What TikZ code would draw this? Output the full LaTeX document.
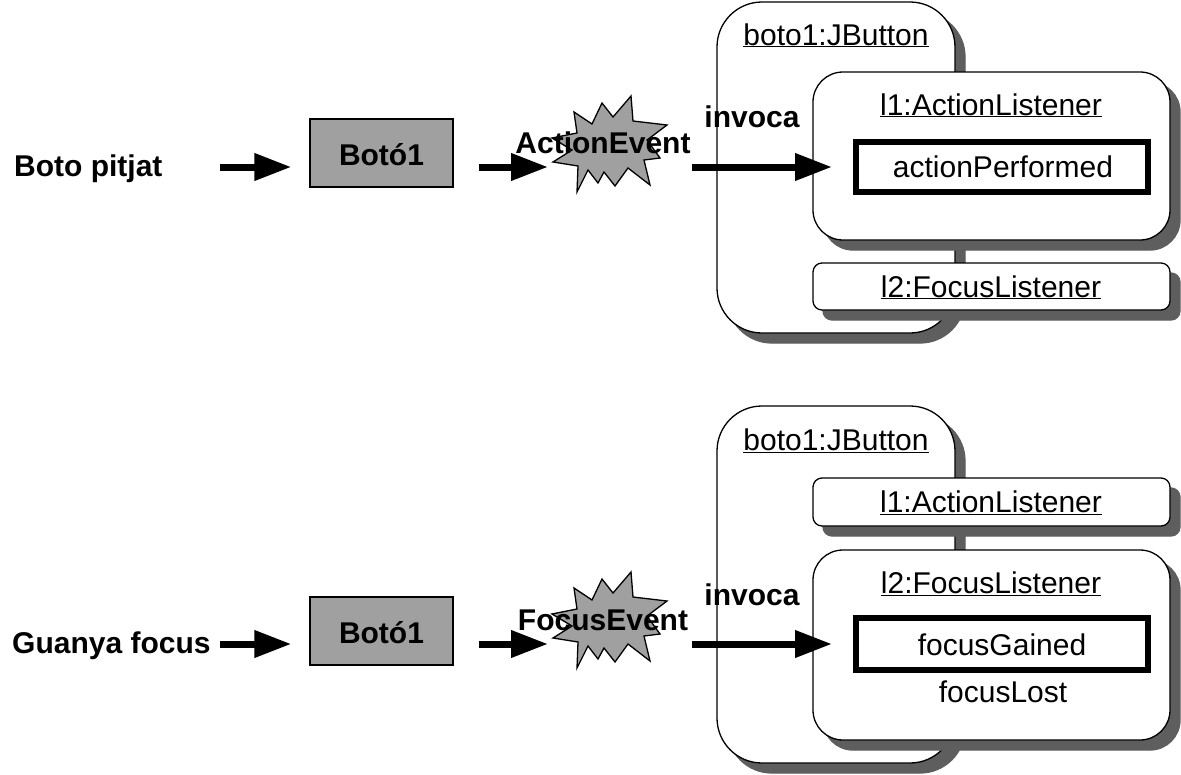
\documentclass[tikz,border=0pt]{standalone}
\usepackage{fontspec}
\setmainfont{Liberation Sans}
\usetikzlibrary{arrows.meta,shadows}
\definecolor{boxgray}{HTML}{A0A0A0}
\definecolor{shadowgray}{HTML}{5E5E5E}
\newcommand\bigfnt{\fontsize{30}{36}\selectfont}
\tikzset{
  txt/.style={font=\bigfnt, inner sep=0pt, anchor=base},
  btxt/.style={font=\bigfnt\bfseries, inner sep=0pt, anchor=base},
  shad/.style={general shadow={fill=shadowgray, draw=shadowgray, shadow xshift=10pt, shadow yshift=-10pt}},
  objbox/.style={draw, fill=white, line width=1.3pt, inner sep=0pt, shad},
  bigobj/.style={objbox, rounded corners=45pt},
  midobj/.style={objbox, rounded corners=30pt},
  smallobj/.style={objbox, rounded corners=9pt},
  methbox/.style={draw, fill=white, line width=6pt, inner sep=0pt},
  btnbox/.style={draw, fill=boxgray, line width=1.3pt, inner sep=0pt, minimum width=143pt, minimum height=68pt},
  evstar/.style={draw, fill=boxgray, line width=1.3pt, line join=miter},
  arr/.style={line width=7pt, -{Triangle[length=37pt,width=26pt]}},
}
\begin{document}
\begin{tikzpicture}[x=1pt,y=-1pt]
\useasboundingbox (0,0) rectangle (1181,774);

% ================= TOP =================
\node[txt, anchor=base west, font=\bigfnt\bfseries] (lab1) at (14,176) {Boto pitjat};
\node[btnbox] (b1) at (381.5,153) {};
\node[btxt] (b1t) at (381.5,165) {Botó1};

\coordinate (ev1) at (608,143);
\begin{scope}[shift={(ev1)}]
\draw[evstar] (-34,-31) -- (-16,-19) -- (-6,-40) -- (5,-26) -- (23,-47) -- (25,-22)
  -- (59,-18) -- (39,-3) -- (52,15) -- (36,17) -- (42,42) -- (20,25) -- (7,43)
  -- (-4,29) -- (-10,40) -- (-20,27) -- (-31,49) -- (-30,23) -- (-55,19)
  -- (-36,7) -- (-56,-5) -- (-31,-10) -- cycle;
\end{scope}
\node[btxt] (ev1t) at (603,153) {ActionEvent};

\node[bigobj, minimum width=238pt, minimum height=331pt] (jb1) at (836,167.5) {};
\node[txt] (jb1t) at (836,45) {\underline{boto1:JButton}};
\node[midobj, minimum width=357pt, minimum height=168pt] (al1) at (991.5,156) {};
\node[txt] (al1t) at (991,115) {\underline{l1:ActionListener}};
\node[methbox, minimum width=292pt, minimum height=50pt] (ap) at (1002,167) {};
\node[txt] (apt) at (1003,177) {actionPerformed};
\node[smallobj, minimum width=357pt, minimum height=47pt] (fl1) at (991.5,286.5) {};
\node[txt] (fl1t) at (991,297) {\underline{l2:FocusListener}};

\node[btxt] (inv1) at (752,127) {invoca};

\coordinate (s1) at (220,167);
\coordinate (e1) at (548,167);
\coordinate (s3) at (692,167);
\draw[arr, shorten >=18pt] (s1) -- (s1 -| b1.west);
\draw[arr, shorten <=25pt] (s1 -| b1.east) -- (e1);
\draw[arr, shorten >=21pt] (s3) -- (ap.west);

% ================= BOTTOM =================
\node[txt, anchor=base west, font=\bigfnt\bfseries] (lab2) at (12,653) {Guanya focus};
\node[btnbox] (b2) at (381.5,631) {};
\node[btxt] (b2t) at (381.5,643) {Botó1};

\coordinate (ev2) at (608,619);
\begin{scope}[shift={(ev2)}]
\draw[evstar] (-34,-31) -- (-16,-19) -- (-6,-40) -- (5,-26) -- (23,-47) -- (25,-22)
  -- (59,-18) -- (39,-3) -- (52,15) -- (36,17) -- (42,42) -- (20,25) -- (7,43)
  -- (-4,29) -- (-10,40) -- (-20,27) -- (-31,49) -- (-30,23) -- (-55,19)
  -- (-36,7) -- (-56,-5) -- (-31,-10) -- cycle;
\end{scope}
\node[btxt] (ev2t) at (603,630) {FocusEvent};

\node[bigobj, minimum width=238pt, minimum height=357pt] (jb2) at (836,584.5) {};
\node[txt] (jb2t) at (836,450) {\underline{boto1:JButton}};
\node[smallobj, minimum width=357pt, minimum height=48pt] (al2) at (991.5,502) {};
\node[txt] (al2t) at (991,512) {\underline{l1:ActionListener}};
\node[midobj, minimum width=357pt, minimum height=190pt] (fl2) at (991.5,645) {};
\node[txt] (fl2t) at (991,593) {\underline{l2:FocusListener}};
\node[methbox, minimum width=292pt, minimum height=52pt] (fg) at (1002,644) {};
\node[txt] (fgt) at (1002,655) {focusGained};
\node[txt] (flt) at (1003,702) {focusLost};

\node[btxt] (inv2) at (752,605) {invoca};

\coordinate (s2) at (220,644);
\coordinate (e2) at (548,644);
\coordinate (s4) at (692,644);
\draw[arr, shorten >=18pt] (s2) -- (s2 -| b2.west);
\draw[arr, shorten <=25pt] (s2 -| b2.east) -- (e2);
\draw[arr, shorten >=21pt] (s4) -- (fg.west);
\end{tikzpicture}
\end{document}
